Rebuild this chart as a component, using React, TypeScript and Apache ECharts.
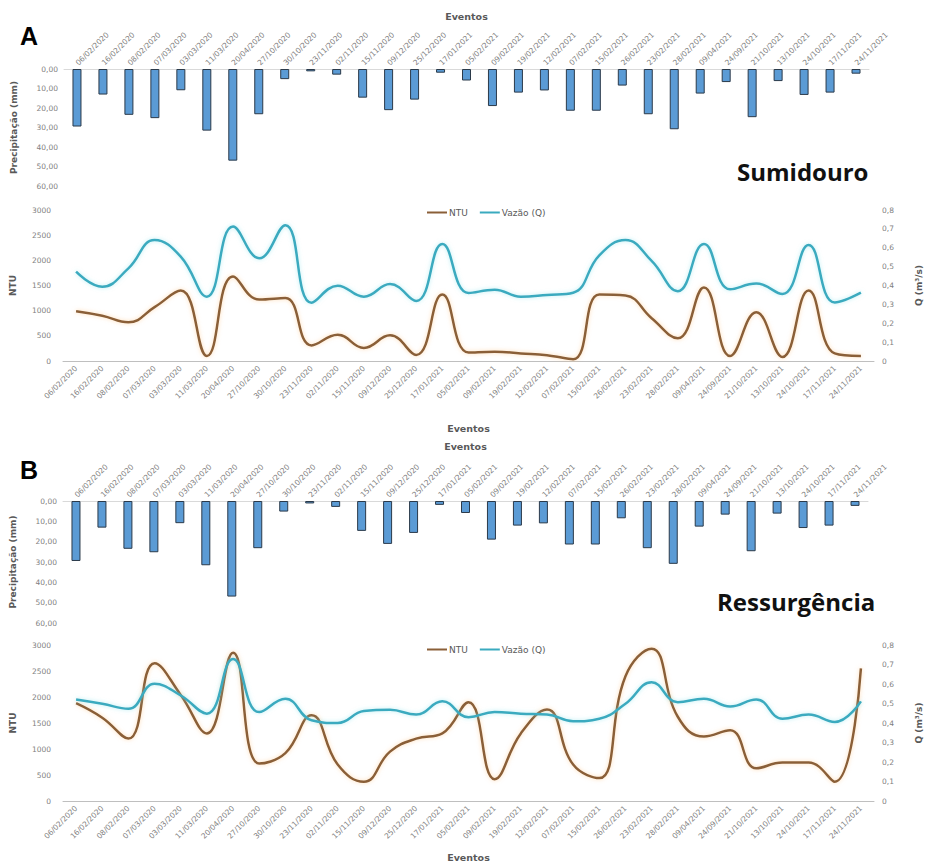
import React, { useEffect, useRef } from "react";
import * as echarts from "echarts";

const eventos = [
  "06/02/2020", "16/02/2020", "08/02/2020", "07/03/2020", "03/03/2020", "11/03/2020",
  "20/04/2020", "27/10/2020", "30/10/2020", "23/11/2020", "02/11/2020", "15/11/2020",
  "09/12/2020", "25/12/2020", "17/01/2021", "05/02/2021", "09/02/2021", "19/02/2021",
  "12/02/2021", "07/02/2021", "15/02/2021", "26/02/2021", "23/02/2021", "28/02/2021",
  "09/04/2021", "24/09/2021", "21/10/2021", "13/10/2021", "24/10/2021", "17/11/2021",
  "24/11/2021",
];

const precipitacao = [
  29.5, 13.1, 23.5, 25.2, 10.9, 31.6, 47.0, 23.2, 5.2, 1.2, 2.9, 14.7, 21.1, 15.7, 1.9,
  5.9, 19.0, 12.1, 11.0, 21.4, 21.4, 8.5, 23.2, 30.9, 12.6, 6.7, 24.7, 6.2, 13.3, 12.1, 2.4,
];

const ntuSumidouro = [
  990, 900, 770, 1070, 1400, 100, 1680, 1220, 1250, 310, 520, 260, 510, 120, 1320, 170,
  185, 150, 115, 35, 1320, 1300, 850, 450, 1460, 100, 970, 80, 1400, 150, 100,
];

const vazaoSumidouro = [
  0.473, 0.394, 0.491, 0.641, 0.553, 0.341, 0.712, 0.544, 0.719, 0.309, 0.399, 0.341,
  0.408, 0.318, 0.62, 0.36, 0.378, 0.341, 0.35, 0.362, 0.56, 0.641, 0.53, 0.37, 0.62,
  0.38, 0.41, 0.355, 0.615, 0.31, 0.362,
];

const ntuRessurgencia = [
  1880, 1600, 1200, 2650, 2040, 1300, 2850, 720, 920, 1650, 700, 370, 950, 1200, 1300,
  1900, 420, 1300, 1760, 700, 440, 2400, 2930, 1620, 1240, 1360, 630, 740, 740, 370, 2550,
];

const vazaoRessurgencia = [
  0.521, 0.499, 0.473, 0.601, 0.541, 0.448, 0.728, 0.456, 0.524, 0.414, 0.4, 0.461,
  0.468, 0.443, 0.511, 0.43, 0.456, 0.448, 0.444, 0.409, 0.422, 0.499, 0.609, 0.507,
  0.524, 0.485, 0.521, 0.422, 0.443, 0.405, 0.511,
];

const FONT = "DejaVu Sans";
const LABEL_GRAY = "#7f7f7f";
const TITLE_GRAY = "#595959";
const BROWN = "#8a5f38";
const TEAL = "#3aaabf";
const BAR_BLUE = "#5b9bd5";

export default function App() {
  const ref = useRef<HTMLDivElement>(null);

  useEffect(() => {
    if (!ref.current) return;
    const chart = echarts.init(ref.current, undefined, { renderer: "svg" });

    const comma = (v: number, d: number) => v.toFixed(d).replace(".", ",");

    const nameStyle = (size: number) => ({
      fontFamily: FONT,
      fontWeight: "bold",
      fontSize: size,
      color: TITLE_GRAY,
    });

    const barX = (gridIndex: number, nameGap: number) => ({
      type: "category",
      gridIndex,
      data: eventos,
      position: "top",
      boundaryGap: true,
      name: "Eventos",
      nameLocation: "middle",
      nameGap,
      nameMoveOverlap: false,
      nameTextStyle: nameStyle(9.5),
      axisLine: { show: true, onZero: false, lineStyle: { color: "#d9d9d9", width: 1 } },
      axisTick: { show: false },
      axisLabel: {
        rotate: -45,
        interval: 0,
        align: "left",
        verticalAlign: "middle",
        fontFamily: FONT,
        fontSize: 7.5,
        color: LABEL_GRAY,
        margin: 5,
      },
    });

    const barY = (gridIndex: number) => ({
      type: "value",
      gridIndex,
      inverse: true,
      min: 0,
      max: 60,
      interval: 10,
      name: "Precipitação (mm)",
      nameLocation: "middle",
      nameGap: 46,
      nameMoveOverlap: false,
      nameTextStyle: nameStyle(9),
      axisLine: { show: false },
      axisTick: { show: false },
      splitLine: { show: false },
      axisLabel: {
        fontFamily: FONT,
        fontSize: 7.5,
        color: LABEL_GRAY,
        margin: 6,
        formatter: (v: number) => comma(v, 2),
      },
    });

    const lineX = (gridIndex: number, nameGap: number) => ({
      type: "category",
      gridIndex,
      data: eventos,
      boundaryGap: true,
      name: "Eventos",
      nameLocation: "middle",
      nameGap,
      nameMoveOverlap: false,
      nameTextStyle: nameStyle(9.5),
      axisLine: { show: true, lineStyle: { color: "#bfbfbf", width: 1 } },
      axisTick: { show: false },
      axisLabel: {
        rotate: 45,
        interval: 0,
        align: "right",
        verticalAlign: "middle",
        fontFamily: FONT,
        fontSize: 7.5,
        color: LABEL_GRAY,
        margin: 6,
      },
    });

    const ntuY = (gridIndex: number) => ({
      type: "value",
      gridIndex,
      position: "left",
      min: 0,
      max: 3000,
      interval: 500,
      name: "NTU",
      nameLocation: "middle",
      nameGap: 46,
      nameMoveOverlap: false,
      nameTextStyle: nameStyle(9),
      axisLine: { show: false },
      axisTick: { show: false },
      splitLine: { show: false },
      axisLabel: {
        fontFamily: FONT,
        fontSize: 7.5,
        color: LABEL_GRAY,
        margin: 12,
        formatter: (v: number) => String(v),
      },
    });

    const qY = (gridIndex: number) => ({
      type: "value",
      gridIndex,
      position: "right",
      min: 0,
      max: 0.8,
      interval: 0.1,
      name: "Q (m³/s)",
      nameLocation: "middle",
      nameRotate: 90,
      nameGap: 40,
      nameMoveOverlap: false,
      nameTextStyle: nameStyle(9),
      axisLine: { show: false },
      axisTick: { show: false },
      splitLine: { show: false },
      axisLabel: {
        fontFamily: FONT,
        fontSize: 7.5,
        color: LABEL_GRAY,
        margin: 8,
        formatter: (v: number) => (v === 0 ? "0" : comma(v, 1)),
      },
    });

    const legend = (top: number) => ({
      data: ["NTU", "Vazão (Q)"],
      left: 422,
      top,
      icon: "rect",
      itemWidth: 20,
      itemHeight: 2,
      itemGap: 12,
      textStyle: { fontFamily: FONT, fontSize: 9, color: TITLE_GRAY, padding: [0, 0, 0, -3] },
    });

    const bar = (xi: number, yi: number) => ({
      type: "bar",
      name: "Precipitação",
      xAxisIndex: xi,
      yAxisIndex: yi,
      data: precipitacao,
      barWidth: 9,
      itemStyle: { color: BAR_BLUE, borderColor: "#2b3a4a", borderWidth: 1 },
    });

    const line = (name: string, xi: number, yi: number, data: number[], color: string, glow: string) => ({
      type: "line",
      name,
      xAxisIndex: xi,
      yAxisIndex: yi,
      data,
      smooth: 0.45,
      showSymbol: false,
      symbol: "none",
      itemStyle: { color },
      lineStyle: { color, width: 2.5, shadowColor: glow, shadowBlur: 4 },
    });

    chart.setOption({
      animation: false,
      backgroundColor: "#ffffff",
      grid: [
        { left: 64, top: 69, width: 805, height: 117 },
        { left: 63, top: 210, width: 819, height: 151 },
        { left: 63, top: 501, width: 805, height: 122 },
        { left: 61, top: 645, width: 820, height: 156 },
      ],
      xAxis: [barX(0, 48), lineX(1, 62), barX(2, 50), lineX(3, 51)],
      yAxis: [barY(0), ntuY(1), qY(1), barY(2), ntuY(3), qY(3)],
      legend: [legend(203), legend(640)],
      series: [
        bar(0, 0),
        line("NTU", 1, 1, ntuSumidouro, BROWN, "rgba(255,190,120,0.55)"),
        line("Vazão (Q)", 1, 2, vazaoSumidouro, TEAL, "rgba(130,225,235,0.55)"),
        bar(2, 3),
        line("NTU", 3, 4, ntuRessurgencia, BROWN, "rgba(255,190,120,0.55)"),
        line("Vazão (Q)", 3, 5, vazaoRessurgencia, TEAL, "rgba(130,225,235,0.55)"),
      ],
      graphic: [
        {
          type: "text",
          left: 20,
          top: 23,
          style: { text: "A", fontFamily: "Liberation Sans", fontWeight: "bold", fontSize: 25, fill: "#000" },
        },
        {
          type: "text",
          left: 20,
          top: 457,
          style: { text: "B", fontFamily: "Liberation Sans", fontWeight: "bold", fontSize: 25, fill: "#000" },
        },
        {
          type: "text",
          left: 737,
          top: 159,
          style: { text: "Sumidouro", fontFamily: "Open Sans", fontWeight: "bold", fontSize: 24, fill: "#111" },
        },
        {
          type: "text",
          left: 717,
          top: 589,
          style: { text: "Ressurgência", fontFamily: "Open Sans", fontWeight: "bold", fontSize: 24, fill: "#111" },
        },
      ],
    });

    return () => chart.dispose();
  }, []);

  return (
    <div
      ref={ref}
      style={{ position: "absolute", left: 0, top: 0, width: 931, height: 868, background: "#fff" }}
    />
  );
}
